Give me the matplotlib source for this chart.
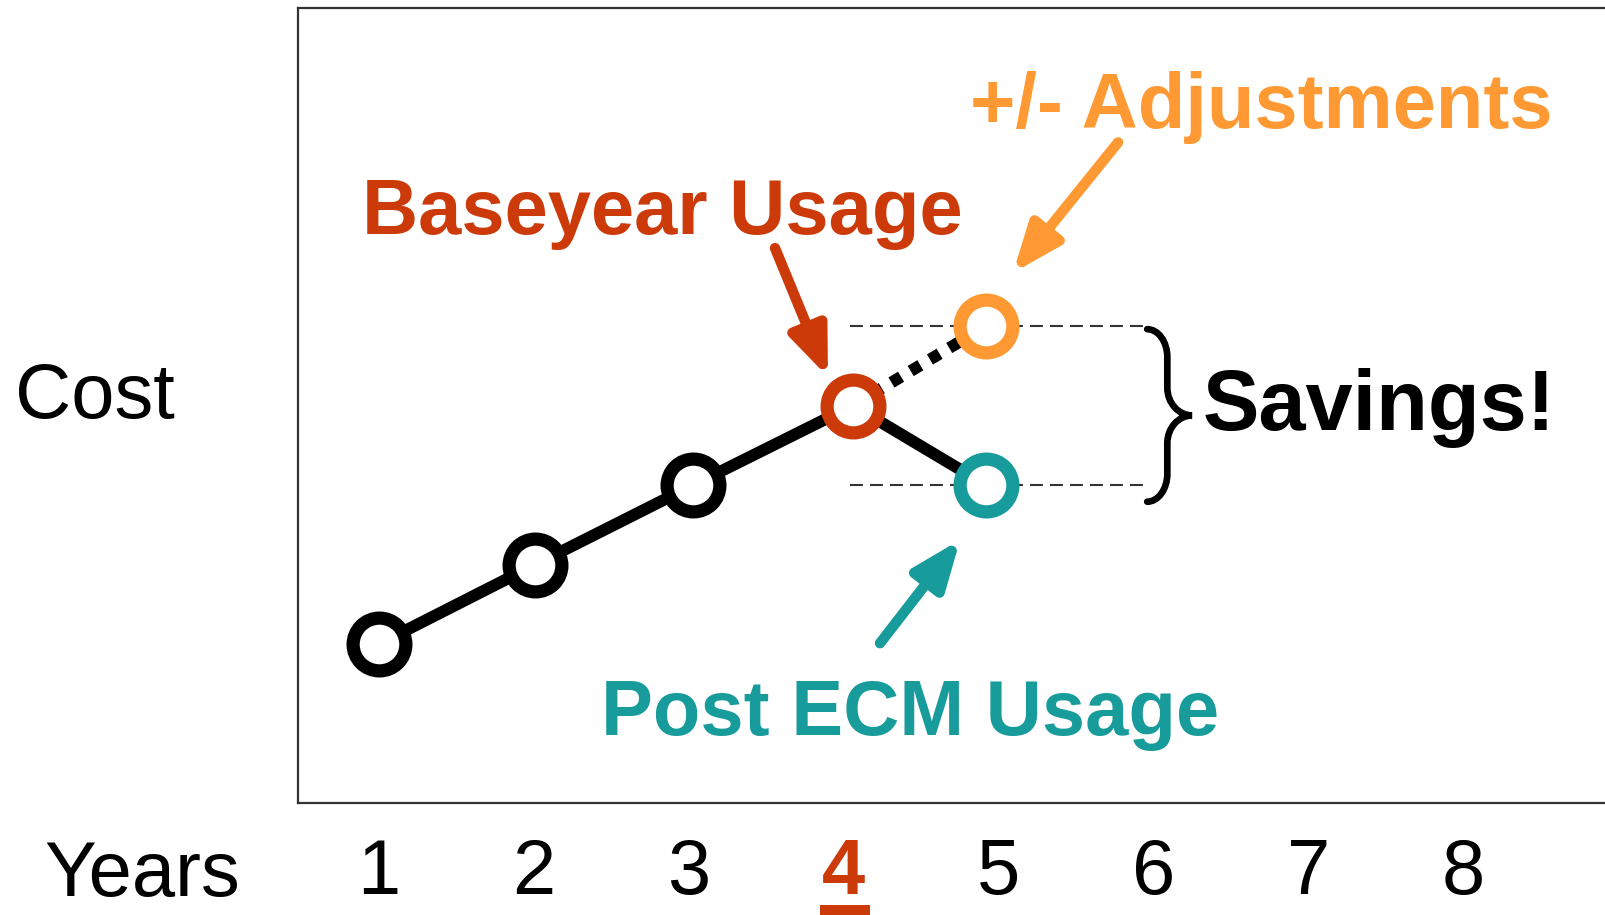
import matplotlib
matplotlib.use("Agg")
import matplotlib.pyplot as plt
from matplotlib.patches import Rectangle, PathPatch
from matplotlib.path import Path

plt.rcParams['font.family'] = ['Liberation Sans', 'DejaVu Sans']

# values (cost in arbitrary units)
history_x = [1.0, 2.01, 3.03, 4.06]
history_cost = [20, 30, 40, 50]
post_x = 4.92
adjusted_cost = 60
post_cost = 40
year_labels = ['1', '2', '3', '4', '5', '6', '7', '8']
base_year = 4

RED = '#CC3A0A'
ORANGE = '#FF9933'
TEAL = '#179B9B'

fig = plt.figure(figsize=(16.06, 9.15), dpi=100)
ax = fig.add_axes([298 / 1606, 112 / 915, 1320 / 1606, 795 / 915])
ax.set_xlim(0.477, 9.0)
ax.set_ylim(0, 100)
ax.set_xticks([])
ax.set_yticks([])
for side, sp in ax.spines.items():
    sp.set_linewidth(1.6)
    sp.set_color('#333333')
ax.spines['right'].set_visible(False)

# lines
ax.plot(history_x + [post_x], history_cost + [post_cost], color='black', lw=8.5, zorder=2,
        solid_capstyle='butt')
ax.plot([history_x[-1], post_x], [history_cost[-1], adjusted_cost], color='black', lw=8.5,
        linestyle=(0, (0.95, 0.95)), zorder=2)

# markers
mk = dict(marker='o', markersize=38, markeredgewidth=9.5, markerfacecolor='white',
          linestyle='none', zorder=3)
ax.plot(history_x[:-1], history_cost[:-1], markeredgecolor='black', **mk)
ax.plot([history_x[-1]], [history_cost[-1]], markeredgecolor=RED, **mk)
ax.plot([post_x], [adjusted_cost], markeredgecolor=ORANGE, **mk)
ax.plot([post_x], [post_cost], markeredgecolor=TEAL, **mk)

# dashed guide lines
for yv in (adjusted_cost, post_cost):
    ax.plot([4.04, 5.96], [yv, yv], color='#333333', lw=1.5,
            linestyle=(0, (6.2, 3.4)), zorder=1)

# brace
x0, xm, x1 = 5.96, 6.09, 6.25
top, bot = 59.6, 37.9
mid = (top + bot) / 2
r = 3.5
verts = [(x0, top),
         (x0 + 0.55 * (xm - x0), top), (xm, top - 0.45 * r), (xm, top - r),
         (xm, mid + r),
         (xm, mid + 0.45 * r), (xm + 0.45 * (x1 - xm), mid), (x1, mid),
         (xm + 0.45 * (x1 - xm), mid), (xm, mid - 0.45 * r), (xm, mid - r),
         (xm, bot + r),
         (xm, bot + 0.45 * r), (x0 + 0.55 * (xm - x0), bot), (x0, bot)]
codes = [Path.MOVETO,
         Path.CURVE4, Path.CURVE4, Path.CURVE4,
         Path.LINETO,
         Path.CURVE4, Path.CURVE4, Path.CURVE4,
         Path.CURVE4, Path.CURVE4, Path.CURVE4,
         Path.LINETO,
         Path.CURVE4, Path.CURVE4, Path.CURVE4]
ax.add_patch(PathPatch(Path(verts, codes), facecolor='none', edgecolor='black',
                       lw=4.8, capstyle='round', zorder=2))

# annotations
bold = dict(fontsize=56, fontweight='bold')
ax.text(2.83, 71.6, 'Baseyear Usage', color=RED, ha='center', va='baseline', **bold)
ax.text(6.70, 84.9, '+/- Adjustments', color=ORANGE, ha='center', va='baseline', **bold)
ax.text(4.43, 8.55, 'Post ECM Usage', color=TEAL, ha='center', va='baseline', **bold)
ax.text(6.32, 46.9, 'Savings!', color='black', ha='left', va='baseline',
        fontsize=61, fontweight='bold')

arrow = lambda c: dict(arrowstyle='-|>,head_length=1.45,head_width=0.58', color=c, lw=7.5,
                       mutation_scale=20, shrinkA=0, shrinkB=0)
ax.annotate('', xy=(3.899, 53.6), xytext=(3.557, 69.8), arrowprops=arrow(RED))
ax.annotate('', xy=(5.094, 66.7), xytext=(5.772, 83.1), arrowprops=arrow(ORANGE))
ax.annotate('', xy=(4.752, 33.1), xytext=(4.235, 20.1), arrowprops=arrow(TEAL))

# year labels under the box
xt = ax.get_xaxis_transform()
for i, lab in enumerate(year_labels):
    yr = i + 1
    if yr == base_year:
        ax.text(yr, -0.1145, lab, transform=xt, ha='center', va='baseline', fontsize=56,
                fontweight='bold', color=RED, clip_on=False)
    else:
        ax.text(yr, -0.1145, lab, transform=xt, ha='center', va='baseline', fontsize=56,
                color='black', clip_on=False)
ax.add_patch(Rectangle((base_year - 0.152, -0.16), 0.322, 0.032, transform=xt,
                       facecolor=RED, edgecolor='none', clip_on=False))

fig.text(142 / 1606, 1 - 896 / 915, 'Years', ha='center', va='baseline', fontsize=56)
fig.text(95 / 1606, 1 - 418 / 915, 'Cost', ha='center', va='baseline', fontsize=56)

fig.savefig('out.png', dpi=100)
